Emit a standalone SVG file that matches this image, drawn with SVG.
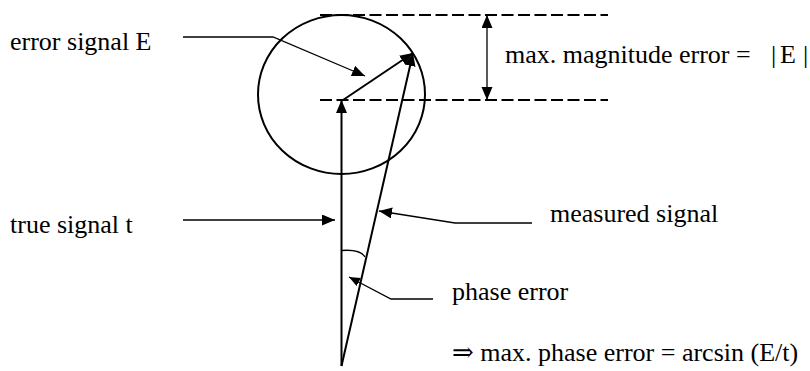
<svg xmlns="http://www.w3.org/2000/svg" width="810" height="371" viewBox="0 0 810 371">
<style>
.lbl{font-family:"Liberation Serif","Times New Roman","DejaVu Serif",serif;font-size:26px;fill:#000}
.thick{stroke:#000;stroke-width:2;fill:none}
.thin{stroke:#000;stroke-width:1.3;fill:none}
.dash{stroke:#000;stroke-width:2;stroke-dasharray:12 4.5;fill:none}
</style>
<defs>
<marker id="ah" markerUnits="userSpaceOnUse" markerWidth="14" markerHeight="12" refX="13" refY="5.5" orient="auto-start-reverse" viewBox="0 0 14 12">
<path d="M0,0 L13,5.5 L0,11 z" fill="#000"/>
</marker>
<marker id="ahs" markerUnits="userSpaceOnUse" markerWidth="12" markerHeight="10" refX="11" refY="4.5" orient="auto" viewBox="0 0 12 10">
<path d="M0,0 L11,4.5 L0,9 z" fill="#000"/>
</marker>
</defs>
<g id="circle-node"><ellipse class="thick" cx="341.5" cy="94.5" rx="83.5" ry="79.5"/></g>
<g id="guides">
<line class="dash" x1="320" y1="15" x2="608" y2="15"/>
<line class="dash" x1="320" y1="100" x2="608" y2="100"/>
</g>
<g id="connectors">
<line class="thick" x1="341.5" y1="366" x2="341.5" y2="100" marker-end="url(#ah)"/>
<line class="thick" x1="343" y1="100" x2="413" y2="53" marker-end="url(#ah)"/>
<line class="thick" x1="341.5" y1="366" x2="413" y2="53" marker-end="url(#ah)"/>
<line class="thin" x1="487" y1="15" x2="487" y2="100" marker-start="url(#ah)" marker-end="url(#ah)"/>
<polyline class="thin" points="183,37 273,37 365,76" marker-end="url(#ah)"/>
<line class="thin" x1="183" y1="220" x2="335" y2="220" marker-end="url(#ah)"/>
<polyline class="thin" points="532,223 455,223 379,211" marker-end="url(#ah)"/>
<polyline class="thin" points="433,299 391,299 349,277" marker-end="url(#ahs)"/>
<path class="thin" d="M341.5,250.5 Q360,249 365,257"/>
</g>
<g font-family="Liberation Serif, Times New Roman, DejaVu Serif, serif" font-size="26">
<g id="label-error-signal"><text class="lbl" x="10" y="50">error signal E</text></g>
<g id="label-true-signal"><text class="lbl" x="10" y="233">true signal t</text></g>
<g id="label-measured-signal"><text class="lbl" x="550" y="222">measured signal</text></g>
<g id="label-phase-error"><text class="lbl" x="452" y="300">phase error</text></g>
<g id="label-magnitude"><text class="lbl" x="505" y="63">max. magnitude error = <tspan x="771">|</tspan><tspan x="780">E</tspan><tspan x="803">|</tspan></text></g>
<g id="label-max-phase"><text class="lbl" x="452" y="361">⇒ max. phase error = arcsin (E/t)</text></g>
</g>
</svg>
